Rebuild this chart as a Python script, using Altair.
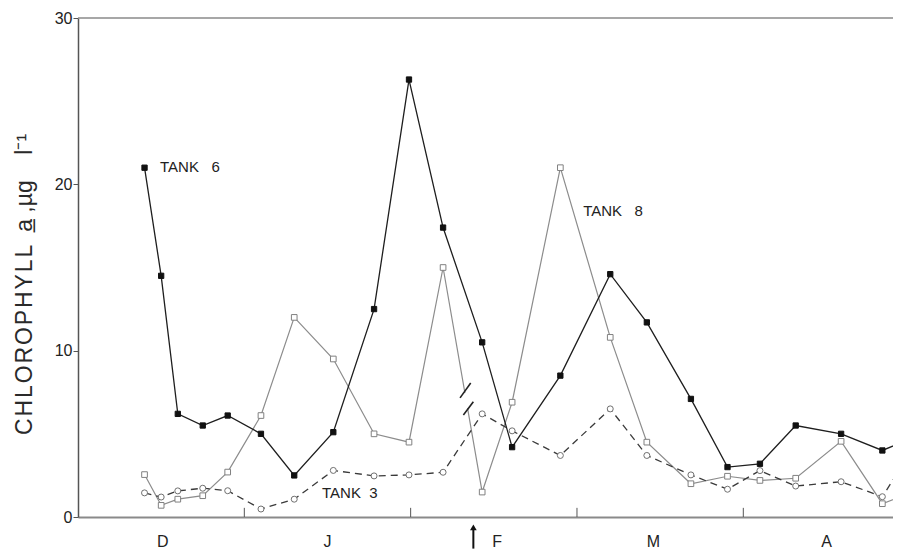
import altair as alt
import pandas as pd

# sampling positions, in months from 1 December
times = [0.40, 0.50, 0.60, 0.75, 0.90, 1.10, 1.30, 1.535, 1.78, 1.99, 2.195, 2.43,
         2.61, 2.90, 3.20, 3.42, 3.685, 3.905, 4.10, 4.315, 4.588, 4.836, 5.05]
tank6 = [21.0, 14.5, 6.2, 5.5, 6.1, 5.0, 2.5, 5.1, 12.5, 26.3, 17.4, 10.5,
         4.2, 8.5, 14.6, 11.7, 7.1, 3.0, 3.2, 5.5, 5.0, 4.0, 4.9]
tank8 = [2.55, 0.7, 1.07, 1.28, 2.7, 6.1, 12.0, 9.5, 5.0, 4.5, 15.0, 1.5,
         6.9, 21.0, 10.8, 4.5, 2.0, 2.45, 2.2, 2.33, 4.55, 0.8, 1.6]
tank3 = [1.45, 1.2, 1.57, 1.73, 1.58, 0.48, 1.07, 2.8, 2.47, 2.53, 2.69, 6.2,
         5.18, 3.7, 6.5, 3.7, 2.53, 1.67, 2.79, 1.86, 2.12, 1.22, 4.6]

month_labels = ["D", "J", "F", "M", "A"]
month_label_pos = [0.51, 1.50, 2.52, 3.46, 4.50]
month_ticks = [1, 2, 3, 4]
y_ticks = [0, 10, 20, 30]

tank_labels = ["TANK\u00a0\u00a0\u00a06", "TANK\u00a0\u00a0\u00a08", "TANK\u00a0\u00a03"]
tank_label_x = [0.493, 3.037, 1.467]
tank_label_y = [21.05, 18.4, 1.44]

arrow_t = 2.377          # sampling break marked by arrow
break_x = [2.297, 2.317]
break_x2 = [2.361, 2.377]
break_y = [7.16, 6.13]
break_y2 = [8.06, 6.93]

FONT = "Liberation Sans"
HAIR = "\u200a"
NB = "\u00a0"
y_title = (HAIR.join("CHLOROPHYLL") + NB * 2 + "a\u0332" + NB + ",\u00b5g" + NB * 4
           + "l\u207b\u00b9")

rows = []
for name, vals in (("6", tank6), ("8", tank8), ("3", tank3)):
    for i, (t, v) in enumerate(zip(times, vals)):
        rows.append({"t": t, "chl": v, "tank": name, "order": i})
df = pd.DataFrame(rows)

xscale = alt.Scale(domain=[0, 4.90], nice=False, zero=False)
yscale = alt.Scale(domain=[0, 30], nice=False)

x_axis = alt.Axis(values=month_ticks, labels=False, ticks=False, title=None, grid=False,
                  domainColor="#8a8a8a", domainWidth=2)
y_axis = alt.Axis(values=y_ticks, grid=False, tickSize=5, tickColor="#555", labelPadding=1,
                  labelFontSize=16, labelFont=FONT, labelColor="#222",
                  domainColor="#555", domainWidth=1.5,
                  title=y_title,
                  titleFont=FONT, titleFontSize=23, titleFontWeight="normal", titleColor="#2a2a2a",
                  titleAngle=-90, titleX=-54, titleY=266, titleAlign="center",
                  titleBaseline="middle")

X = alt.X("t:Q", scale=xscale, axis=x_axis)
Y = alt.Y("chl:Q", scale=yscale, axis=y_axis)

base = alt.Chart(df)

top_line = alt.Chart(pd.DataFrame({"chl": [y_ticks[-1]]})).mark_rule(
    color="#8a8a8a", strokeWidth=1.5).encode(y=Y)

tick_df = pd.DataFrame({"t": month_ticks, "chl": [0] * 4, "chl2": [0.55] * 4})
xticks = alt.Chart(tick_df).mark_rule(color="#555", strokeWidth=1).encode(x=X, y=Y, y2="chl2:Q")

def line(tank, color, width, dash=None):
    kw = dict(color=color, strokeWidth=width, clip=True)
    if dash:
        kw["strokeDash"] = dash
    return base.transform_filter(alt.datum.tank == tank).mark_line(**kw).encode(
        x=X, y=Y, order="order:Q")

l8 = line("8", "#8c8c8c", 1.2)
l3 = line("3", "#3a3a3a", 1.3, [7, 5])
l6 = line("6", "#1e1e1e", 1.3)

gap = alt.Chart(pd.DataFrame({"t": [2.329], "t2": [2.345], "chl": [7.46], "chl2": [6.55]})).mark_rule(
    color="white", strokeWidth=4).encode(x=X, x2="t2:Q", y=Y, y2="chl2:Q")

breaks = alt.Chart(pd.DataFrame({"t": break_x, "t2": break_x2, "chl": break_y, "chl2": break_y2})).mark_rule(
    color="#222", strokeWidth=1.6).encode(x=X, x2="t2:Q", y=Y, y2="chl2:Q")

def pts(tank, shape, fill, stroke, size):
    return base.transform_filter(alt.datum.tank == tank).mark_point(
        shape=shape, filled=True, fill=fill, stroke=stroke, strokeWidth=1, size=size,
        opacity=1, clip=True).encode(x=X, y=Y)

p8 = pts("8", "square", "white", "#808080", 32)
p3 = pts("3", "circle", "white", "#707070", 36)
p6 = pts("6", "square", "#111", "#111", 28)

lab_df = pd.DataFrame({"t": tank_label_x, "chl": tank_label_y, "txt": tank_labels})
labels = alt.Chart(lab_df).mark_text(align="left", baseline="middle", font=FONT, fontSize=15,
                                     color="#222").encode(x=X, y=Y, text="txt:N")

mon_df = pd.DataFrame({"t": month_label_pos, "chl": [-1.49] * 5, "txt": month_labels})
months = alt.Chart(mon_df).mark_text(align="center", baseline="middle", font=FONT, fontSize=16,
                                     color="#222").encode(x=X, y=Y, text="txt:N")

arrow_df = pd.DataFrame({"t": [arrow_t], "chl": [-0.7], "chl2": [-1.9]})
arrow_shaft = alt.Chart(arrow_df).mark_rule(color="#111", strokeWidth=2).encode(x=X, y=Y, y2="chl2:Q")
head_df = pd.DataFrame({"t": [arrow_t], "chl": [-0.62]})
arrow_head = alt.Chart(head_df).mark_point(shape="triangle-up", filled=True, color="#111",
                                           size=45, opacity=1).encode(x=X, y=Y)

chart = alt.layer(
    top_line, xticks, l8, l3, l6, gap, breaks, p8, p3, p6, labels, months,
    arrow_shaft, arrow_head
).properties(
    width=815, height=499,
    autosize=alt.AutoSizeParams(type="none"),
    padding={"left": 70, "top": 10, "right": 0, "bottom": 32},
    background="white",
).configure_view(strokeWidth=0)

chart.save("out.html", embed_options={"renderer": "svg", "actions": False})
